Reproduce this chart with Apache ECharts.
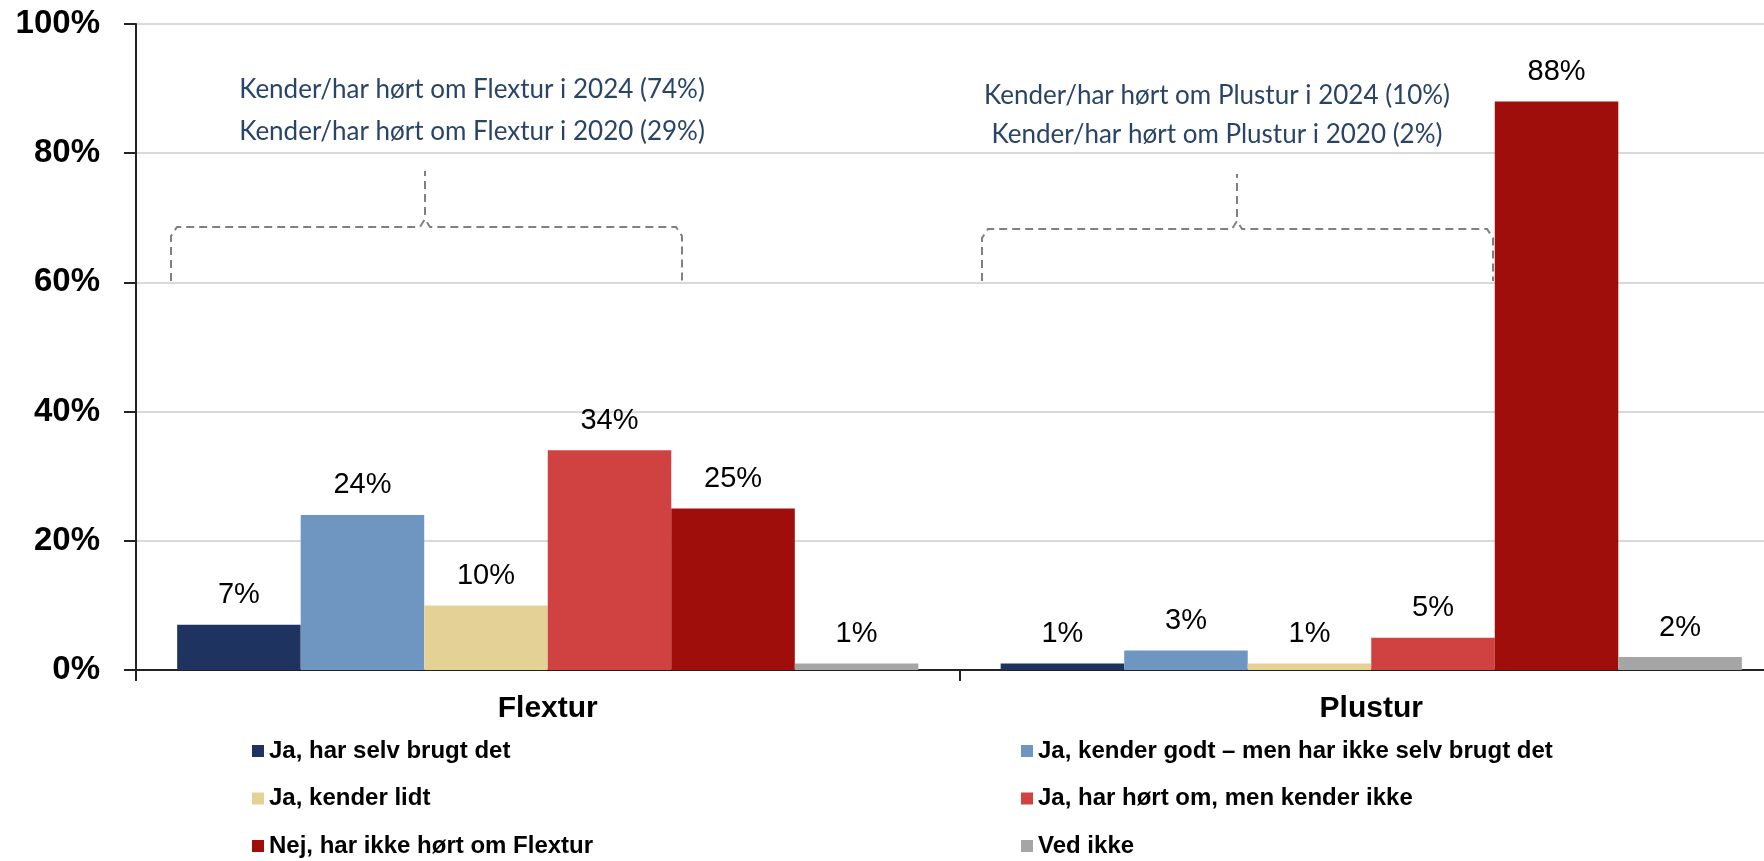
<!DOCTYPE html>
<html>
<head>
<meta charset="utf-8">
<script src="https://cdn.jsdelivr.net/npm/echarts@6/dist/echarts.min.js"></script>
<style>
  html, body { margin: 0; padding: 0; background: #fff; }
  #chart { width: 1764px; height: 861px; }
</style>
</head>
<body>
<div id="chart"></div>
<script>
  // kategorier og værdier (%)
  const categories = ['Flextur', 'Plustur'];
  const seriesNames = [
    'Ja, har selv brugt det',
    'Ja, kender godt – men har ikke selv brugt det',
    'Ja, kender lidt',
    'Ja, har hørt om, men kender ikke',
    'Nej, har ikke hørt om Flextur',
    'Ved ikke',
  ];
  const brugt = [7, 1];
  const kenderGodt = [24, 3];
  const kenderLidt = [10, 1];
  const hortOm = [34, 5];
  const ikkeHort = [25, 88];
  const vedIkke = [1, 2];
  const yTicks = [0, 20, 40, 60, 80, 100];
  const notesFlextur = ['Kender/har hørt om Flextur i 2024 (74%)', 'Kender/har hørt om Flextur i 2020 (29%)'];
  const notesPlustur = ['Kender/har hørt om Plustur i 2024 (10%)', 'Kender/har hørt om Plustur i 2020 (2%)'];

  const colors = ['#1f3360', '#6f95c1', '#e4d196', '#d04242', '#9f0e0b', '#a5a5a5'];
  const values = [brugt, kenderGodt, kenderLidt, hortOm, ikkeHort, vedIkke];

  const chart = echarts.init(document.getElementById('chart'));

  const dash = { stroke: '#808080', lineWidth: 2, lineDash: [8, 5], fill: null };
  function bracket(x1, x2, xm, y, bottom, stemTop) {
    return [
      {
        type: 'polyline',
        shape: {
          points: [
            [x1, bottom], [x1, y + 9], [x1 + 6, y],
            [xm - 5, y], [xm, y - 8], [xm + 5, y],
            [x2 - 6, y], [x2, y + 9], [x2, bottom],
          ],
        },
        style: dash,
      },
      {
        type: 'line',
        shape: { x1: xm, y1: y - 12, x2: xm, y2: stemTop },
        style: dash,
      },
    ];
  }
  function note(text, x, y) {
    return {
      type: 'text',
      x: x,
      y: y,
      style: {
        text: text,
        font: '26px Lato',
        fill: '#2a4468',
        textAlign: 'center',
        textVerticalAlign: 'middle',
      },
    };
  }
  const legendText = { fontFamily: 'Liberation Sans', fontWeight: 'bold', fontSize: 24, color: '#000', lineHeight: 24 };

  const option = {
    animation: false,
    grid: {
      left: 136,
      top: 24,
      width: 1647,
      height: 646,
      containLabel: false,
      outerBoundsMode: 'none',
    },
    legend: [
      {
        data: [seriesNames[0], seriesNames[2], seriesNames[4]],
        orient: 'vertical',
        left: 252,
        top: 739,
        padding: 0,
        itemWidth: 12,
        itemHeight: 12,
        itemGap: 23.5,
        icon: 'rect',
        textStyle: legendText,
      },
      {
        data: [seriesNames[1], seriesNames[3], seriesNames[5]],
        orient: 'vertical',
        left: 1021,
        top: 739,
        padding: 0,
        itemWidth: 12,
        itemHeight: 12,
        itemGap: 23.5,
        icon: 'rect',
        textStyle: legendText,
      },
    ],
    xAxis: {
      type: 'category',
      data: categories,
      axisLine: { show: true, lineStyle: { color: '#222', width: 2 } },
      axisTick: { show: true, length: 11, lineStyle: { color: '#222', width: 2 } },
      axisLabel: {
        margin: 24,
        fontFamily: 'Liberation Sans',
        fontWeight: 'bold',
        fontSize: 30,
        color: '#000',
      },
    },
    yAxis: {
      type: 'value',
      min: yTicks[0],
      max: yTicks[yTicks.length - 1],
      interval: 20,
      axisLine: { show: true, lineStyle: { color: '#222', width: 2 } },
      axisTick: { show: true, length: 12, lineStyle: { color: '#222', width: 2 } },
      splitLine: { show: true, lineStyle: { color: '#d9d9d9', width: 2 } },
      axisLabel: {
        margin: 36,
        formatter: '{value}%',
        fontFamily: 'Liberation Sans',
        fontWeight: 'bold',
        fontSize: 33,
        color: '#000',
      },
    },
    series: values.map((v, i) => ({
      name: seriesNames[i],
      type: 'bar',
      data: v,
      barGap: '0%',
      barCategoryGap: '10%',
      itemStyle: { color: colors[i] },
      label: {
        show: true,
        position: 'top',
        distance: 15,
        formatter: '{c}%',
        fontFamily: 'Liberation Sans',
        fontSize: 29,
        color: '#000',
      },
    })),
    graphic: [
      ...bracket(171, 682, 425, 227, 281, 171),
      ...bracket(982, 1493, 1237, 229, 281, 174),
      note(notesFlextur[0], 472, 90),
      note(notesFlextur[1], 472, 132),
      note(notesPlustur[0], 1217, 96),
      note(notesPlustur[1], 1217, 135),
    ],
  };

  chart.setOption(option);
</script>
</body>
</html>
